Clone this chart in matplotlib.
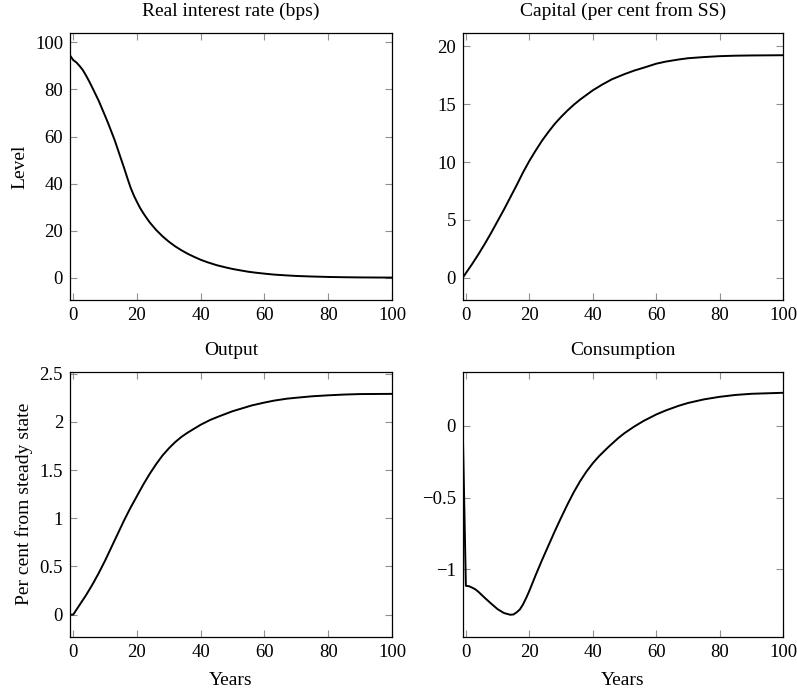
import numpy as np
import matplotlib
matplotlib.use("Agg")
import matplotlib.pyplot as plt

# Datos (años y niveles)
t_tasa = [-1, 0, 1, 2, 3, 4, 5, 6, 7, 8, 9, 10, 11, 12, 13, 14, 15, 16, 17, 18,
          19, 20, 21, 22, 23, 24, 26, 28, 30, 32, 34, 36, 38, 40, 42, 45, 48, 50,
          52, 55, 57, 60, 63, 67, 70, 75, 80, 85, 90, 95, 100]
tasa = [94.5, 92.5, 91.5, 90.0, 88.3, 86.0, 83.5, 80.8, 78.0, 75.2, 72.0, 68.8, 65.5,
        62.0, 58.5, 54.5, 50.5, 46.5, 42.3, 38.3, 35.0, 32.2, 29.6, 27.4, 25.4, 23.5,
        20.3, 17.6, 15.3, 13.3, 11.6, 10.1, 8.8, 7.6, 6.6, 5.3, 4.3, 3.7, 3.2, 2.5,
        2.15, 1.7, 1.3, 0.95, 0.72, 0.48, 0.3, 0.18, 0.1, 0.06, 0.03]

t_capital = [-1, 0, 2, 4, 6, 8, 10, 12, 14, 16, 18, 20, 22, 24, 26, 28, 30, 32, 34,
             36, 38, 40, 43, 46, 50, 53, 56, 60, 63, 67, 70, 75, 80, 85, 90, 100]
capital = [0.0, 0.4, 1.2, 2.05, 2.95, 3.9, 4.9, 5.9, 6.95, 8.0, 9.1, 10.1, 11.0, 11.85,
           12.6, 13.3, 13.9, 14.45, 14.95, 15.4, 15.8, 16.2, 16.7, 17.15, 17.6, 17.9,
           18.15, 18.5, 18.68, 18.86, 18.97, 19.07, 19.15, 19.19, 19.21, 19.23]

t_producto = [-1, 0, 1, 2, 4, 6, 8, 10, 12, 14, 16, 18, 20, 22, 24, 26, 28, 30, 32,
              34, 36, 38, 40, 43, 46, 50, 53, 56, 60, 63, 67, 70, 75, 80, 85, 90, 100]
producto = [0.0, 0.0, 0.05, 0.1, 0.2, 0.31, 0.43, 0.56, 0.7, 0.84, 0.98, 1.11, 1.23,
            1.35, 1.46, 1.56, 1.65, 1.725, 1.79, 1.845, 1.89, 1.93, 1.97, 2.02, 2.06,
            2.11, 2.14, 2.17, 2.2, 2.22, 2.24, 2.25, 2.265, 2.275, 2.283, 2.288, 2.29]

t_consumo = [-1, 0, 1, 2, 3, 4, 6, 8, 10, 12, 14, 15, 16, 17, 18, 19, 20, 21, 22,
             24, 26, 28, 30, 32, 34, 36, 38, 40, 42, 45, 48, 50, 53, 56, 60, 63, 67,
             70, 75, 80, 85, 90, 100]
consumo = [0.0, -1.115, -1.118, -1.128, -1.14, -1.158, -1.2, -1.24, -1.278, -1.305,
           -1.317, -1.315, -1.3, -1.28, -1.245, -1.2, -1.15, -1.095, -1.04, -0.935,
           -0.835, -0.735, -0.64, -0.548, -0.462, -0.385, -0.318, -0.26, -0.21, -0.145,
           -0.085, -0.05, -0.005, 0.035, 0.08, 0.108, 0.14, 0.16, 0.185, 0.203, 0.216,
           0.224, 0.231]

xticks = [0, 20, 40, 60, 80, 100]
yticks_tasa = [0, 20, 40, 60, 80, 100]
yticks_capital = [0, 5, 10, 15, 20]
yticks_producto = [0, 0.5, 1, 1.5, 2, 2.5]
ylabels_producto = ["0", "0.5", "1", "1.5", "2", "2.5"]
yticks_consumo = [-1, -0.5, 0]
ylabels_consumo = ["\u22121", "\u22120.5", "0"]

plt.rcParams['font.family'] = ['Liberation Serif', 'DejaVu Serif']
plt.rcParams['font.size'] = 14

fig = plt.figure(figsize=(7.97, 6.89), dpi=100)

W, H = 797, 689
def caja(x0, y0, x1, y1):
    return [x0 / W, 1 - y1 / H, (x1 - x0) / W, (y1 - y0) / H]

ax1 = fig.add_axes(caja(70, 33, 392, 300))
ax2 = fig.add_axes(caja(462.7, 33, 783.3, 300))
ax3 = fig.add_axes(caja(70, 371.7, 392, 636.7))
ax4 = fig.add_axes(caja(462.7, 371.7, 783.3, 636.7))

paneles = [
    (ax1, t_tasa, tasa, "Real interest rate (bps)", (-9.5, 104.0), yticks_tasa, None),
    (ax2, t_capital, capital, "Capital (per cent from SS)", (-1.92, 21.15), yticks_capital, None),
    (ax3, t_producto, producto, "Output", (-0.229, 2.52), yticks_producto, ylabels_producto),
    (ax4, t_consumo, consumo, "Consumption", (-1.47, 0.378), yticks_consumo, ylabels_consumo),
]

for ax, t, y, titulo, ylim, yt, ylab in paneles:
    ax.plot(t, y, color='black', linewidth=1.4)
    ax.set_xlim(-1, 100)
    ax.set_ylim(*ylim)
    ax.set_xticks(xticks)
    ax.set_yticks(yt)
    if ylab is not None:
        ax.set_yticklabels(ylab)
    ax.set_title(titulo, pad=12, fontsize=14)
    ax.tick_params(direction='in', length=5, width=0.8, color='#909090',
                   top=True, right=True, labelsize=13.5, pad=5)
    for s in ax.spines.values():
        s.set_linewidth(0.9)
        s.set_color('black')

ax1.set_ylabel("Level", labelpad=5)
ax3.set_ylabel("Per cent from steady state", labelpad=5)
ax3.set_xlabel("Years", labelpad=8)
ax4.set_xlabel("Years", labelpad=8)

fig.savefig("out.png", dpi=100)
